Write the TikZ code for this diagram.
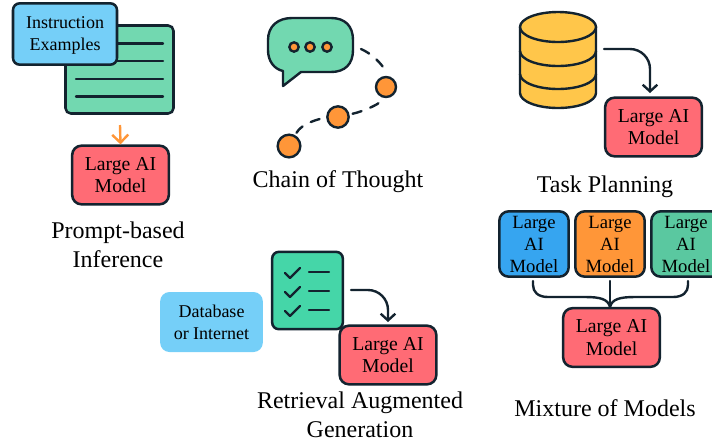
\documentclass[tikz,border=0pt]{standalone}
\usepackage{fontspec}
\usepackage{xcolor}
\setmainfont{Liberation Serif}
\usetikzlibrary{arrows.meta}
\definecolor{inkdark}{HTML}{13232F}
\definecolor{modelred}{HTML}{FF6B75}
\definecolor{docgreen}{HTML}{72D8B0}
\definecolor{checkgreen}{HTML}{45D6A8}
\definecolor{mixgreen}{HTML}{5AC8A0}
\definecolor{skyblue}{HTML}{75CFF8}
\definecolor{mixblue}{HTML}{36A5F0}
\definecolor{dotorange}{HTML}{FF9638}
\definecolor{dbyellow}{HTML}{FFC64A}
\tikzset{
    box/.style={draw=inkdark, line width=1.9pt, rounded corners=7pt, align=center, inner sep=0pt, text=black, text depth=-3pt},
    model/.style={box, fill=modelred, minimum width=72.5pt, minimum height=44pt, font=\fontsize{14.8}{17}\selectfont},
    small/.style={box, minimum width=52pt, minimum height=49pt, font=\fontsize{14}{16.5}\selectfont},
    caption/.style={align=center, inner sep=0pt, text=black, font=\fontsize{18}{22}\selectfont},
    ink/.style={draw=inkdark, line width=1.8pt, line cap=round},
    flow/.style={ink, rounded corners=15pt, -{Straight Barb[length=5pt, width=11pt, line width=1.8pt]}},
    dot/.style={circle, draw=inkdark, fill=dotorange, line width=1.8pt, inner sep=0pt},
    hop/.style={ink, dash pattern=on 7pt off 7pt}
}
\begin{document}
\begin{tikzpicture}[x=0.75pt, y=-0.75pt]
    \useasboundingbox (0,0) rectangle (712,444);

    % prompt-based inference
    \node[box, fill=docgreen, minimum width=81pt, minimum height=66pt, rounded corners=4pt](doc) at (119.5,69.5) {};
    \draw[ink] (76,43.5) -- (163,43.5);
    \draw[ink] (76,61) -- (163,61);
    \draw[ink] (76,79) -- (163,79);
    \draw[ink] (76,96.5) -- (163,96.5);
    \node[box, fill=skyblue, minimum width=78pt, minimum height=46pt, rounded corners=5pt, font=\fontsize{13.5}{16.5}\selectfont](instr) at (65,34) {Instruction\\Examples};
    \node[model](promptmodel) at (120.5,175) {Large AI\\Model};
    \coordinate(promptin) at (120,125);
    \draw[draw=dotorange, line width=1.8pt, -{Straight Barb[length=6pt, width=12pt, line width=1.8pt]}] (promptin) -- (promptmodel.north);
    \node[caption](promptcap) at (118,244.5) {Prompt-based\\Inference};

    % chain of thought
    \draw[ink, fill=docgreen, line join=round] (292,18) -- (331,18)
        .. controls (345,18) and (353,26) .. (353,40) -- (353,50)
        .. controls (353,64) and (345,72) .. (331,72) -- (301,72) -- (283,86) -- (283,71)
        .. controls (274,69) and (268,61) .. (268,50) -- (268,40)
        .. controls (268,26) and (278,18) .. (292,18) -- cycle;
    \node[dot, minimum size=7pt](bubblea) at (294,47) {};
    \node[dot, minimum size=7pt](bubbleb) at (310,47) {};
    \node[dot, minimum size=7pt](bubblec) at (327,47) {};
    \coordinate(bubbleout) at (361,49);
    \node[dot, minimum size=15pt](stepa) at (386,87) {};
    \node[dot, minimum size=16pt](stepb) at (338,117) {};
    \node[dot, minimum size=17pt](stepc) at (289,146) {};
    \draw[hop] (bubbleout) .. controls (370,53) and (378,60) .. (383,67);
    \draw[hop, shorten >=2pt, shorten <=5pt] (stepa) .. controls (378,104) and (365,111) .. (stepb);
    \draw[hop, shorten >=2pt, shorten <=5pt] (stepb) .. controls (320,119) and (302,123) .. (stepc);
    \node[caption](chaincap) at (338,182) {Chain of Thought};

    % task planning
    \draw[ink, fill=dbyellow] (520,27) -- (520,93) arc[start angle=180, end angle=0, x radius=38, y radius=15] -- (596,27);
    \draw[ink, fill=dbyellow] (558,27) ellipse[x radius=38, y radius=15];
    \draw[ink] (520,51) arc[start angle=180, end angle=0, x radius=38, y radius=15];
    \draw[ink] (520,74) arc[start angle=180, end angle=0, x radius=38, y radius=15];
    \coordinate(dbout) at (604,49);
    \node[model](taskmodel) at (653.5,127) {Large AI\\Model};
    \coordinate(taskin) at (650,93);
    \draw[flow] (dbout) -| (taskin);
    \node[caption](taskcap) at (605,187) {Task Planning};

    % mixture of models
    \node[small, fill=mixblue](mixa) at (534,244) {Large\\AI\\Model};
    \node[small, fill=dotorange](mixb) at (610,244) {Large\\AI\\Model};
    \node[small, fill=mixgreen](mixc) at (686,244) {Large\\AI\\Model};
    \node[model](mixmodel) at (611.5,337.5) {Large AI\\Model};
    \coordinate(mixaout) at (533,281);
    \coordinate(mixbout) at (610,281);
    \coordinate(mixcout) at (688,281);
    \draw[ink] (mixaout) -- (533,285) .. controls (533,292) and (538,297) .. (548,297) -- (585,297) .. controls (600,297) and (608,299) .. (610,307);
    \draw[ink] (mixcout) -- (688,285) .. controls (688,292) and (683,297) .. (673,297) -- (635,297) .. controls (620,297) and (612,299) .. (610,307);
    \draw[ink] (mixbout) -- (610,307);
    \node[caption](mixcap) at (605,408) {Mixture of Models};

    % retrieval augmented generation
    \node[box, fill=skyblue, draw=none, minimum width=77pt, minimum height=45pt, font=\fontsize{13.5}{16.5}\selectfont](source) at (211.5,322) {Database\\or Internet};
    \node[box, fill=checkgreen, minimum width=53pt, minimum height=58pt, rounded corners=5pt](list) at (307.5,290.5) {};
    \foreach \rowy in {273,292,311} {
        \draw[ink, line join=round] (285,\rowy) -- (290,\rowy+5) -- (300,\rowy-5);
        \draw[ink] (309,\rowy-1) -- (329,\rowy-1);
    }
    \node[model](ragmodel) at (388,355) {Large AI\\Model};
    \coordinate(listout) at (351,290);
    \coordinate(ragin) at (388,322);
    \draw[flow] (listout) -| (ragin);
    \node[caption](ragcap) at (360,414.5) {Retrieval Augmented\\Generation};
\end{tikzpicture}
\end{document}
